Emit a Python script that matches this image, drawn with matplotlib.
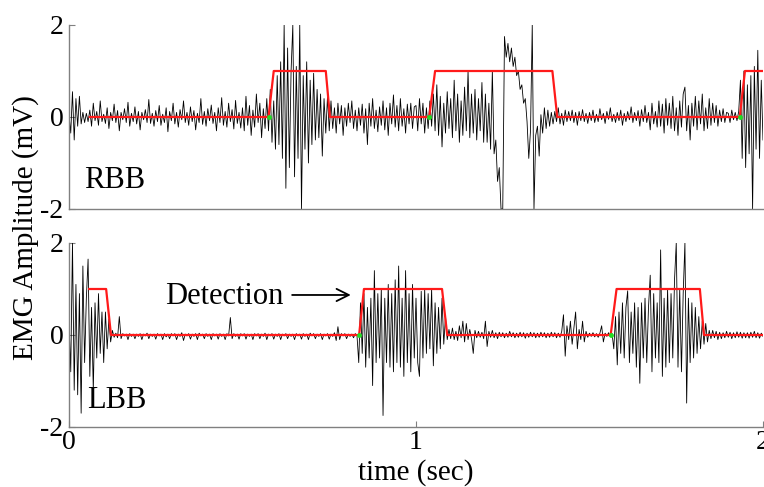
import numpy as np
import matplotlib
matplotlib.use("Agg")
import matplotlib.pyplot as plt

# ---------------- data ----------------
DT = 0.005  # sample spacing of the typed EMG readings (sec)
SEG_STARTS = [0.0, 0.5, 1.0, 1.5]

# RBB EMG (mV), 4 segments of 0.5 s
rbb_0 = [0.05,-0.35,0.55,-0.50,0.40,-0.20,0.45,-0.15,0.10,-0.12,
         0.08,-0.10,0.15,-0.20,0.30,-0.08,0.12,-0.18,0.35,-0.10,
         0.06,-0.14,0.20,-0.25,0.10,-0.08,0.28,-0.12,0.14,-0.30,
         0.10,-0.06,0.18,-0.12,0.32,-0.20,0.08,-0.10,0.22,-0.15,
         0.12,-0.28,0.10,-0.06,0.16,-0.12,0.38,-0.14,0.08,-0.20,
         0.14,-0.10,0.25,-0.18,0.06,-0.12,0.20,-0.32,0.12,-0.08,
         0.30,-0.15,0.10,-0.22,0.16,-0.06,0.35,-0.12,0.10,-0.18,
         0.22,-0.10,0.14,-0.28,0.08,-0.12,0.40,-0.16,0.12,-0.20,
         0.18,-0.08,0.26,-0.14,0.10,-0.30,0.20,-0.12,0.42,-0.18,
         0.12,-0.22,0.30,-0.10,0.16,-0.26,0.36,-0.14,0.10,-0.24]
rbb_1 = [0.20,-0.30,0.45,-0.18,0.25,-0.40,0.15,-0.22,0.50,-0.12,
         0.30,-0.45,0.18,-0.25,0.40,-0.30,0.60,-0.55,0.35,-0.70,
         0.90,-0.60,1.20,-0.90,2.00,-1.55,1.50,-1.10,1.00,2.00,
         -1.30,1.10,-0.90,2.00,-2.00,0.90,-0.70,1.20,-1.00,0.80,
         -0.60,0.95,-0.50,0.60,-0.45,0.50,-0.85,0.40,-0.35,0.45,
         -0.30,0.35,-0.25,0.20,-0.35,0.30,-0.15,0.25,-0.40,0.20,
         -0.20,0.30,-0.12,0.35,-0.25,0.15,-0.30,0.20,-0.18,0.28,
         -0.35,0.18,-0.60,0.30,-0.20,0.40,-0.25,0.15,-0.32,0.22,
         -0.18,0.35,-0.28,0.20,-0.40,0.30,-0.15,0.48,-0.22,0.25,
         -0.30,0.40,-0.20,0.18,-0.35,0.28,-0.15,0.30,-0.25,0.22]
rbb_2 = [0.25,-0.30,0.40,-0.15,0.30,-0.35,0.20,-0.25,0.35,-0.20,
         0.50,-0.30,0.70,-0.40,0.45,-0.65,0.30,-0.35,0.55,-0.25,
         0.40,-0.45,0.80,-0.30,0.50,-0.55,0.35,-0.40,0.65,-0.30,
         1.00,-0.45,0.50,-0.35,0.60,-0.50,0.40,-0.30,0.75,-0.55,
         0.50,-0.55,0.30,-0.70,1.00,-0.80,-0.50,-1.40,-1.10,-2.00,
         -2.00,1.75,1.30,1.60,1.20,1.50,1.10,1.30,0.90,1.00,
         0.60,0.70,0.30,0.40,-0.10,-0.90,-0.30,2.00,-2.00,-0.40,
         -0.20,-0.85,0.05,-0.35,0.20,-0.25,0.15,-0.20,0.10,-0.15,
         0.12,-0.10,0.20,-0.15,0.08,-0.18,0.15,-0.10,0.12,-0.08,
         0.15,-0.12,0.10,-0.18,0.12,-0.08,0.16,-0.10,0.08,-0.14]
rbb_3 = [0.10,-0.08,0.15,-0.12,0.06,-0.10,0.18,-0.06,0.08,-0.14,
         0.12,-0.05,0.20,-0.10,0.06,-0.12,0.10,-0.08,0.15,-0.18,
         0.08,-0.10,0.12,-0.06,0.22,-0.12,0.10,-0.08,0.14,-0.20,
         0.16,-0.10,0.25,-0.12,0.10,-0.28,0.30,-0.15,0.12,-0.22,
         0.35,-0.20,0.28,-0.35,0.40,-0.18,0.30,-0.25,0.45,-0.30,
         0.20,-0.40,0.35,-0.22,0.50,0.65,-0.30,0.25,-0.50,0.30,
         -0.20,0.45,-0.28,0.35,-0.15,0.50,-0.30,0.20,-0.25,0.40,
         -0.18,0.30,-0.12,0.25,-0.20,0.15,-0.10,0.18,-0.12,0.10,
         0.08,-0.12,0.15,-0.06,0.10,-0.08,0.12,0.80,-0.90,1.00,
         -1.10,0.70,-0.80,0.90,-2.00,1.10,-0.70,1.45,-0.90,0.80,
         -0.50]

# LBB EMG (mV)
lbb_0 = [0.30,-0.80,2.00,-1.20,1.10,-1.30,0.90,-1.70,1.50,-0.60,
         0.80,1.65,-0.90,0.60,-1.20,0.70,-0.50,0.90,-0.40,0.50,
         -0.60,0.50,-0.30,0.35,-0.15,0.10,-0.05,0.04,-0.06,0.40,
         -0.08,0.03,-0.02,0.02,-0.10,0.03,-0.03,0.02,-0.08,0.02,
         -0.03,0.03,-0.10,0.02,-0.02,0.04,-0.08,0.02,-0.03,0.02,
         -0.09,0.03,-0.02,0.02,-0.10,0.03,-0.04,0.02,-0.08,0.03,
         -0.02,0.03,-0.10,0.02,-0.03,0.05,-0.12,0.02,-0.02,0.03,
         -0.09,0.02,-0.03,0.03,-0.10,0.04,-0.02,0.02,-0.08,0.03,
         -0.03,0.02,-0.10,0.03,-0.02,0.02,-0.09,0.03,-0.03,0.02,
         -0.10,0.03,-0.02,0.38,-0.08,0.03,-0.03,0.02,-0.09,0.03]
lbb_1 = [-0.02,0.03,-0.09,0.02,-0.03,0.02,-0.10,0.03,-0.02,0.03,
         -0.08,0.02,-0.03,0.04,-0.10,0.02,-0.02,0.03,-0.09,0.02,
         -0.03,0.03,-0.10,0.02,-0.02,0.03,-0.08,0.02,-0.03,0.02,
         -0.10,0.03,-0.02,0.02,-0.09,0.03,-0.03,0.02,-0.10,0.04,
         -0.02,0.03,-0.08,0.02,-0.03,0.03,-0.10,0.02,-0.02,0.03,
         -0.09,0.02,-0.03,0.05,-0.12,0.18,-0.10,0.03,-0.02,0.03,
         -0.08,0.02,-0.03,0.02,-0.06,0.03,-0.02,-0.60,0.70,-0.40,
         0.90,-0.70,0.60,-0.50,0.80,-1.10,1.40,-0.60,0.90,-0.50,
         1.00,-1.75,0.80,-0.60,1.10,-0.70,0.90,-0.80,1.20,-0.60,
         1.50,-0.70,0.80,-0.90,1.40,-0.60,0.90,-0.80,1.10,-0.50]
lbb_2 = [0.80,-0.60,-0.90,0.95,-0.50,1.00,-0.40,0.90,-0.30,1.00,
         -0.67,0.70,-0.40,0.60,-0.30,0.80,-0.20,0.40,-0.10,0.12,
         -0.08,0.15,-0.10,0.08,-0.12,0.20,-0.06,0.30,-0.15,0.25,
         -0.10,0.12,-0.08,-0.40,0.10,-0.06,0.08,-0.05,0.06,-0.08,
         0.30,-0.25,0.08,-0.05,0.10,-0.06,0.05,-0.08,0.06,-0.04,
         0.05,-0.06,0.04,-0.05,0.08,-0.04,0.05,-0.06,0.04,-0.05,
         0.06,-0.04,0.05,-0.07,0.04,-0.05,0.06,-0.04,0.05,-0.06,
         0.04,-0.05,0.06,-0.04,0.05,-0.06,0.04,-0.05,0.06,-0.04,
         0.05,-0.06,0.04,-0.05,0.08,0.44,-0.46,0.20,-0.10,0.30,
         -0.20,0.15,0.50,-0.30,0.12,-0.10,0.30,-0.15,0.08,-0.05]
lbb_3 = [0.04,-0.03,0.05,-0.04,0.03,-0.05,0.04,0.20,-0.15,0.04,
         -0.03,0.05,-0.04,0.03,-0.30,0.40,-0.65,0.50,-0.40,0.70,
         -0.50,0.60,0.96,-0.60,0.50,-0.40,0.70,-0.70,0.60,-1.05,
         0.70,-0.50,0.80,-0.60,0.60,1.30,-0.80,0.90,-0.50,0.70,
         -0.60,1.85,-0.90,0.80,-0.70,1.00,-0.60,0.90,-0.50,1.20,
         2.00,-0.70,1.00,-0.80,0.90,2.00,-1.48,0.80,-0.60,0.70,
         -0.50,0.60,-0.40,0.40,-0.30,0.30,-0.20,0.25,-0.15,0.10,
         -0.08,0.10,-0.06,0.08,-0.10,0.06,-0.08,0.05,-0.06,0.08,
         -0.05,0.06,-0.08,0.05,-0.06,0.07,-0.05,0.06,-0.07,0.05,
         -0.06,0.05,-0.07,0.06,-0.05,0.08,-0.06,0.05,-0.07,0.04,
         -0.03]

# detection (red) waveforms: breakpoints (sec) and levels
rbb_det_t = [0.06, 0.575, 0.59, 0.74, 0.752, 1.038, 1.055, 1.393, 1.407, 1.933, 1.948, 2.0]
rbb_det_v = [0, 0, 1, 1, 0, 0, 1, 1, 0, 0, 1, 1]
lbb_det_t = [0.058, 0.107, 0.121, 0.836, 0.85, 1.075, 1.09, 1.561, 1.578, 1.818, 1.83, 2.0]
lbb_det_v = [1, 1, 0, 0, 1, 1, 0, 0, 1, 1, 0, 0]

# onsets (green marks)
rbb_onsets = [0.575, 1.038, 1.933]
lbb_onsets = [0.836, 1.561]

y_ticks = [-2, 0, 2]
x_ticks = [0, 1, 2]
x_ticklabels = ["0", "1", "2"]


def series(segments):
    ts, vs = [], []
    for start, seg in zip(SEG_STARTS, segments):
        ts.append(start + DT * np.arange(len(seg)))
        vs.append(np.asarray(seg, dtype=float))
    return np.concatenate(ts), np.concatenate(vs)


plt.rcParams['font.family'] = ['Liberation Serif', 'DejaVu Serif']
fig = plt.figure(figsize=(7.64, 4.87), dpi=100)
W, H = 764.0, 487.0
ax_top = fig.add_axes([69 / W, 1 - 209 / H, (763 - 69) / W, 184 / H])
ax_bot = fig.add_axes([69 / W, 1 - 427 / H, (763 - 69) / W, 184 / H])

spine_col = "#808080"
for ax, segs, det_t, det_v, onsets, name, name_xy in [
        (ax_top, [rbb_0, rbb_1, rbb_2, rbb_3], rbb_det_t, rbb_det_v, rbb_onsets, "RBB", (0.043, -1.37)),
        (ax_bot, [lbb_0, lbb_1, lbb_2, lbb_3], lbb_det_t, lbb_det_v, lbb_onsets, "LBB", (0.052, -1.43))]:
    t, v = series(segs)
    ax.plot(t, v, color="black", lw=0.6, zorder=2)
    ax.plot(det_t, det_v, color="#ff1a1a", lw=1.6, zorder=3)
    ax.plot(onsets, [0] * len(onsets), "o", color="#22dd22", ms=2.5, zorder=4)
    ax.set_xlim(0, 2)
    ax.set_ylim(-2, 2)
    for s in ("top", "right"):
        ax.spines[s].set_visible(False)
    for s in ("left", "bottom"):
        ax.spines[s].set_color(spine_col)
        ax.spines[s].set_linewidth(1.0)
    ax.set_yticks(y_ticks)
    ax.set_yticklabels([str(y) for y in y_ticks])
    ax.tick_params(axis="both", direction="in", length=4, color=spine_col,
                   labelsize=20, pad=4)
    ax.text(name_xy[0], name_xy[1], name, fontsize=22, va="center", ha="left")

ax_top.set_xticks([])
ax_bot.set_xticks(x_ticks)
ax_bot.set_xticklabels(x_ticklabels)
ax_bot.tick_params(axis="x", pad=2)
ax_bot.set_xlabel("time (sec)", fontsize=21, labelpad=3)

ax_bot.annotate("", xy=(0.82, 0.87), xytext=(0.635, 0.87),
                arrowprops=dict(arrowstyle="->", color="black", lw=1.3,
                                mutation_scale=22))
ax_bot.text(0.277, 0.83, "Detection", fontsize=22, va="center", ha="left")

fig.text(0.033, 0.532, "EMG Amplitude (mV)", rotation=90, fontsize=21,
         va="center", ha="center")

fig.savefig("out.png", dpi=100)
